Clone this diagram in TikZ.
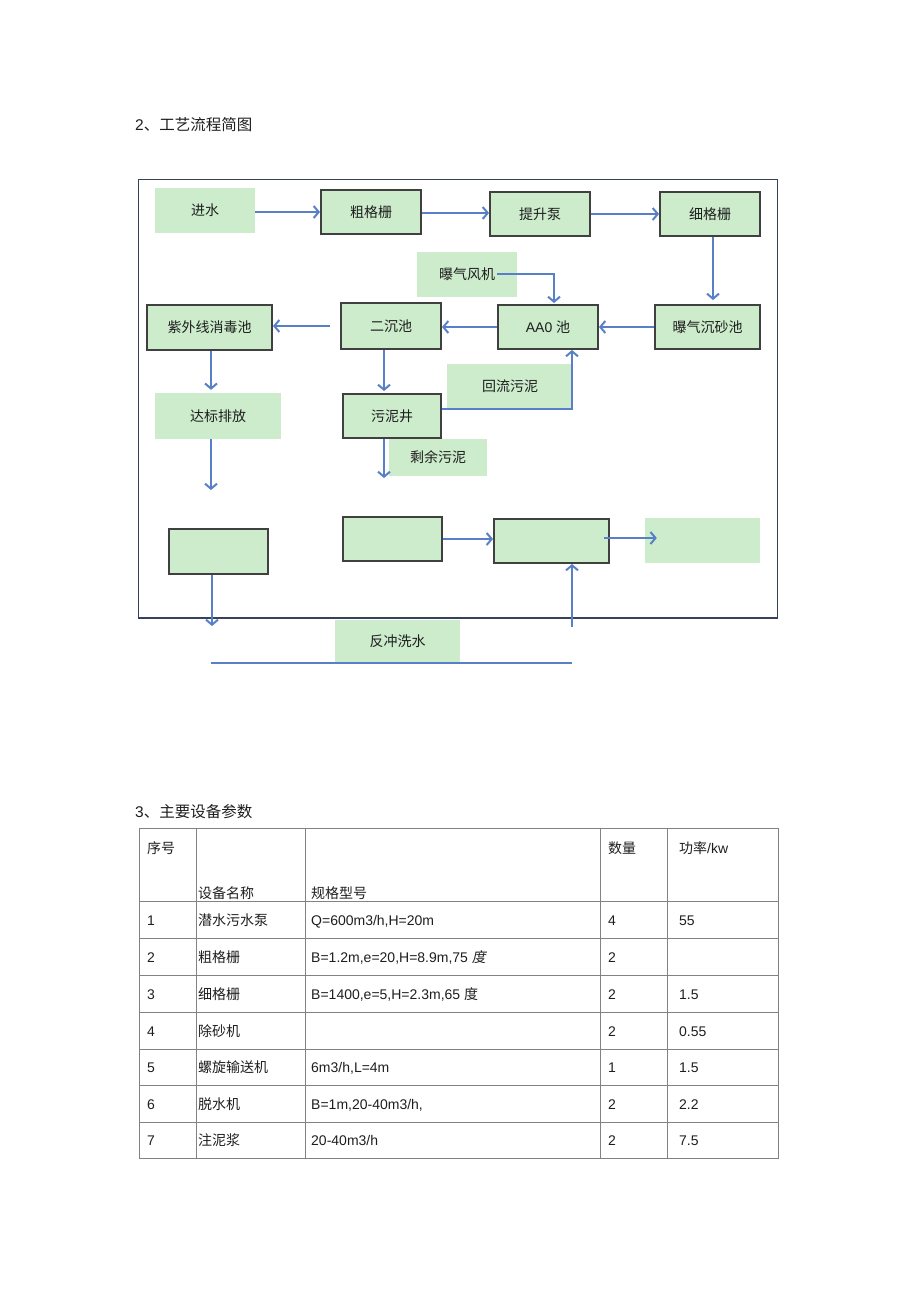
\documentclass[tikz,border=0pt]{standalone}
\usepackage{fontspec}
\setmainfont{Liberation Sans}
\newfontfamily\cjk{Noto Sans CJK SC}
\newfontfamily\cjkslant[FakeSlant=0.2]{Noto Sans CJK SC}
\usetikzlibrary{arrows.meta,calc}
\definecolor{boxfill}{RGB}{204,236,204}
\definecolor{boxline}{RGB}{64,64,64}
\definecolor{arrowblue}{RGB}{88,128,200}
\definecolor{framecol}{RGB}{55,65,90}
\definecolor{gridcol}{RGB}{130,130,130}
\definecolor{txt}{RGB}{30,30,30}
\begin{document}
\begin{tikzpicture}[x=1pt,y=-1pt,
  fbox/.style={draw=boxline, line width=2pt, fill=boxfill, inner sep=0pt, text=txt, font=\cjk\fontsize{14}{16}\selectfont},
  pbox/.style={fill=boxfill, inner sep=0pt, text=txt, font=\cjk\fontsize{14}{16}\selectfont},
  arr/.style={draw=arrowblue, line width=2pt, -{Straight Barb[length=5pt,width=12pt]}},
  plainline/.style={draw=arrowblue, line width=1.6pt},
  ttl/.style={anchor=base west, text=txt, font=\fontsize{15.5}{18}\selectfont, inner sep=0pt},
  cell/.style={anchor=base west, text=txt, font=\fontsize{14}{16}\selectfont, inner sep=0pt},
  grid/.style={draw=gridcol, line width=0.9pt}]
\useasboundingbox (0,0) rectangle (920,1303);

% titles
\node[ttl] (t2) at (135,131) {2{\cjk 、工艺流程简图}};
\node[ttl] (t3) at (135,817) {3{\cjk 、主要设备参数}};

% frame
\draw[draw=framecol, line width=1pt] (138,179) rectangle (777,618);
\draw[draw=framecol, line width=2.6pt] (138,618) -- (777,618);

% boxes
\node[pbox, minimum width=100pt, minimum height=45pt] (in) at (205,210) {进水};
\node[fbox, minimum width=100pt, minimum height=44pt] (cg) at (371,212) {粗格栅};
\node[fbox, minimum width=100pt, minimum height=44pt] (tsb) at (540,214) {提升泵};
\node[fbox, minimum width=100pt, minimum height=44pt] (xg) at (710,214) {细格栅};
\node[pbox, minimum width=100pt, minimum height=45pt] (fj) at (467,274) {曝气风机};
\node[fbox, minimum width=125pt, minimum height=45pt] (zw) at (209.5,327.5) {紫外线消毒池};
\node[fbox, minimum width=100pt, minimum height=46pt] (ec) at (391,326) {二沉池};
\node[fbox, minimum width=100pt, minimum height=44pt] (aao) at (548,327) {\fontspec{Liberation Sans}AA0 {\cjk 池}};
\node[fbox, minimum width=105pt, minimum height=44pt] (cs) at (707.5,327) {曝气沉砂池};
\node[pbox, minimum width=126pt, minimum height=45pt] (hl) at (510,386.5) {回流污泥};
\node[pbox, minimum width=126pt, minimum height=46pt] (db) at (218,416) {达标排放};
\node[fbox, minimum width=98pt, minimum height=44pt] (wnj) at (392,416) {污泥井};
\node[pbox, minimum width=98pt, minimum height=37pt] (sy) at (438,457.5) {剩余污泥};
\node[fbox, minimum width=99pt, minimum height=45pt] (b1) at (218.5,551.5) {};
\node[fbox, minimum width=99pt, minimum height=44pt] (b2) at (392.5,539) {};
\node[fbox, minimum width=115pt, minimum height=44pt] (b3) at (551.5,541) {};
\node[pbox, minimum width=115pt, minimum height=45pt] (b4) at (702.5,540.5) {};
\node[pbox, minimum width=125pt, minimum height=42pt] (fc) at (397.5,641) {反冲洗水};

% arrows
\draw[arr] (cg.west -| in.east) -- (cg.west);
\draw[arr] ($(cg.east)+(0,1)$) -- ($(cg.east -| tsb.west)+(0,1)$);
\draw[arr] (tsb.east) -- (xg.west);
\draw[arr] ($(xg.south)+(3,0)$) -- ($(xg.south |- cs.north)+(3,-4)$);
\draw[arr] ($(fj.east)+(-20,0)$) -| ($(aao.north)+(6,-1)$);
\draw[arr] (cs.west) -- (aao.east);
\draw[arr] (aao.west) -- (aao.west -| ec.east);
\draw[arr] ($(ec.west)+(-10,0)$) -- (ec.west -| zw.east);
\draw[arr] ($(zw.south)+(1.5,0)$) -- ($(zw.south |- db.north)+(1.5,-3)$);
\draw[arr] ($(ec.south)+(-7,0)$) -- ($(ec.south |- wnj.north)+(-7,-2)$);
\draw[arr] ($(wnj.east)+(0,-7)$) -| ($(aao.south)+(24,0)$);
\coordinate (e1) at (384,478);
\draw[arr] (e1 |- wnj.south) -- (e1);
\coordinate (e2) at (211,490);
\draw[arr] (e2 |- db.south) -- (e2);
\draw[arr] (b2.east) -- (b2.east -| b3.west);
\draw[arr] ($(b3.east)+(-6,-3)$) -- ($(b3.east -| b4.west)+(12,-3)$);
\coordinate (e3) at (212,626);
\draw[arr] (e3 |- b1.south) -- (e3);
\coordinate (e4) at (572,627);
\draw[arr] (e4) -- (e4 |- b3.south);
\coordinate (l1) at (211,663);
\coordinate (l2) at (572,663);
\draw[plainline] (l1) -- (l2);

% table grid
\draw[grid] (139,828) rectangle (778,1158);
\foreach \yy in {901,938,975,1012,1049,1085,1122} {\draw[grid] (139,\yy) -- (778,\yy);}
\foreach \xx in {196,305,600,667} {\draw[grid] (\xx,828) -- (\xx,1158);}

% header
\node[cell] (h1) at (147,853) {\cjk 序号};
\node[cell] (h2) at (198,898) {\cjk 设备名称};
\node[cell] (h3) at (311,898) {\cjk 规格型号};
\node[cell] (h4) at (608,853) {\cjk 数量};
\node[cell] (h5) at (679,853) {{\cjk 功率}/kw};

% rows
\node[cell] (r1a) at (147,925) {1};
\node[cell] (r1b) at (198,925) {\cjk 潜水污水泵};
\node[cell] (r1c) at (311,925) {Q=600m3/h,H=20m};
\node[cell] (r1d) at (608,925) {4};
\node[cell] (r1e) at (679,925) {55};

\node[cell] (r2a) at (147,962) {2};
\node[cell] (r2b) at (198,962) {\cjk 粗格栅};
\node[cell] (r2c) at (311,962) {B=1.2m,e=20,H=8.9m,75 {\cjkslant 度}};
\node[cell] (r2d) at (608,962) {2};

\node[cell] (r3a) at (147,999) {3};
\node[cell] (r3b) at (198,999) {\cjk 细格栅};
\node[cell] (r3c) at (311,999) {B=1400,e=5,H=2.3m,65 {\cjk 度}};
\node[cell] (r3d) at (608,999) {2};
\node[cell] (r3e) at (679,999) {1.5};

\node[cell] (r4a) at (147,1036) {4};
\node[cell] (r4b) at (198,1036) {\cjk 除砂机};
\node[cell] (r4d) at (608,1036) {2};
\node[cell] (r4e) at (679,1036) {0.55};

\node[cell] (r5a) at (147,1072) {5};
\node[cell] (r5b) at (198,1072) {\cjk 螺旋输送机};
\node[cell] (r5c) at (311,1072) {6m3/h,L=4m};
\node[cell] (r5d) at (608,1072) {1};
\node[cell] (r5e) at (679,1072) {1.5};

\node[cell] (r6a) at (147,1109) {6};
\node[cell] (r6b) at (198,1109) {\cjk 脱水机};
\node[cell] (r6c) at (311,1109) {B=1m,20-40m3/h,};
\node[cell] (r6d) at (608,1109) {2};
\node[cell] (r6e) at (679,1109) {2.2};

\node[cell] (r7a) at (147,1145) {7};
\node[cell] (r7b) at (198,1145) {\cjk 注泥浆};
\node[cell] (r7c) at (311,1145) {20-40m3/h};
\node[cell] (r7d) at (608,1145) {2};
\node[cell] (r7e) at (679,1145) {7.5};
\end{tikzpicture}
\end{document}
